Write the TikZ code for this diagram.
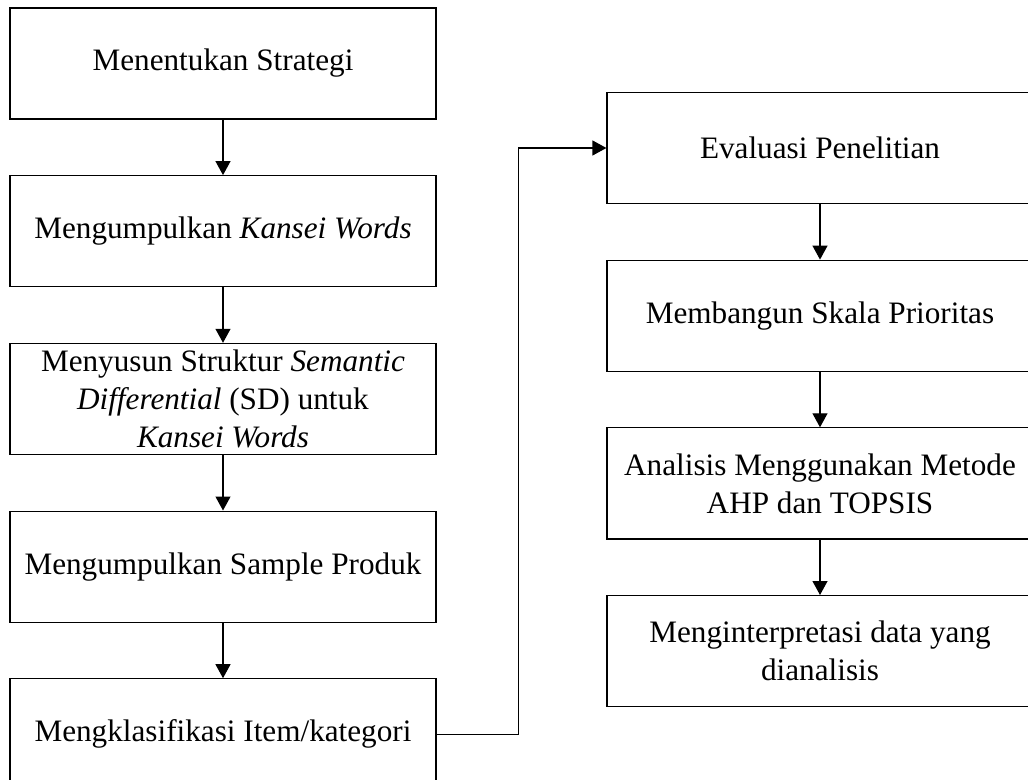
\documentclass[tikz,border=0pt]{standalone}
\usepackage{fontspec}
\setmainfont{Liberation Serif}
\usetikzlibrary{arrows.meta,positioning}

\begin{document}
\begin{tikzpicture}[x=0.5pt,y=-0.5pt,
  box/.style={draw, line width=0.6pt, minimum width=213pt, minimum height=55.5pt,
    inner sep=2pt, align=center, font=\fontsize{15.6}{19}\selectfont},
  flow/.style={draw, line width=0.6pt, -{Triangle[width=7.5pt,length=7pt]}},
  node distance=27.75pt]
\clip (0,0) rectangle (1028,780);
% left column
\node[box] (strategi) at (223,63.5) {Menentukan Strategi};
\node[box, below=of strategi] (kansei) {Mengumpulkan \textit{Kansei Words}};
\node[box, below=of kansei] (struktur) {Menyusun Struktur \textit{Semantic}\\\textit{Differential} (SD) untuk\\\textit{Kansei Words}};
\node[box, below=of struktur] (sample) {Mengumpulkan Sample Produk};
\node[box, below=of sample] (klasifikasi) {Mengklasifikasi Item/kategori};
% right column
\node[box] (evaluasi) at (820,148) {Evaluasi Penelitian};
\node[box, below=of evaluasi] (skala) {Membangun Skala Prioritas};
\node[box, below=of skala] (analisis) {Analisis Menggunakan Metode\\AHP dan TOPSIS};
\node[box, below=of analisis] (interpretasi) {Menginterpretasi data yang\\dianalisis};
% arrows
\draw[flow] (strategi) -- (kansei);
\draw[flow] (kansei) -- (struktur);
\draw[flow] (struktur) -- (sample);
\draw[flow] (sample) -- (klasifikasi);
\draw[flow] (klasifikasi.east) -- ++(82,0) |- (evaluasi.west);
\draw[flow] (evaluasi) -- (skala);
\draw[flow] (skala) -- (analisis);
\draw[flow] (analisis) -- (interpretasi);
\end{tikzpicture}
\end{document}
